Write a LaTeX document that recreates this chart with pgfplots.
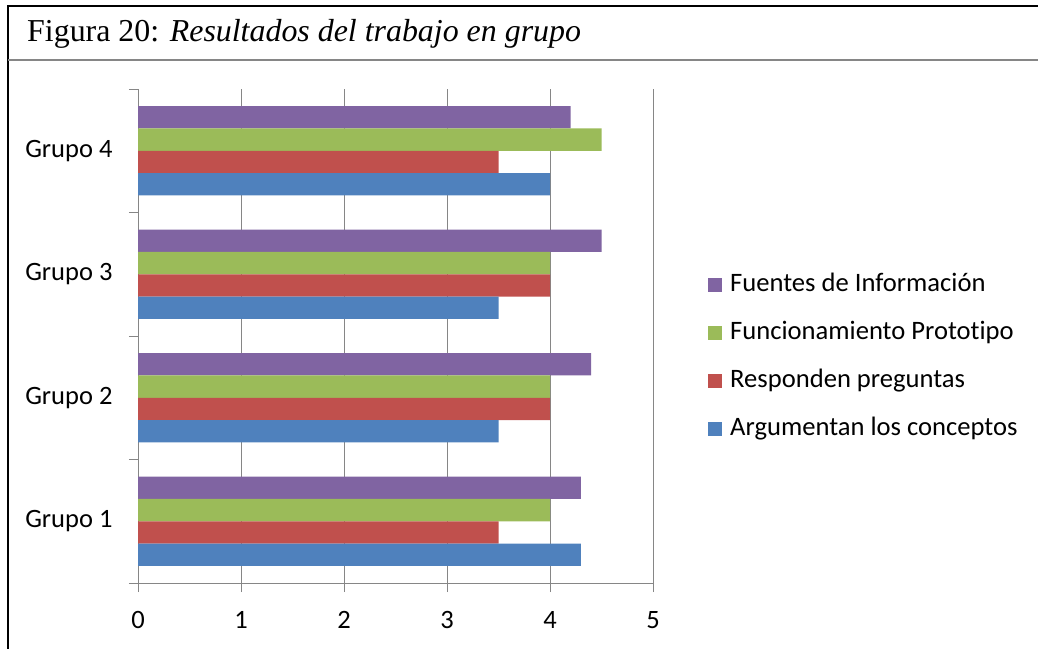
\documentclass[border=0pt]{standalone}
\usepackage{pgfplots}
\pgfplotsset{compat=1.18}
\usepackage{fontspec}
\setmainfont{Liberation Serif}
\newfontfamily\calibri[Ligatures=NoCommon]{Carlito}
\definecolor{cpurple}{HTML}{8064A2}
\definecolor{cgreen}{HTML}{9BBB59}
\definecolor{cred}{HTML}{C0504D}
\definecolor{cblue}{HTML}{4F81BD}
\definecolor{gridgray}{HTML}{868686}
\begin{document}
\begin{tikzpicture}[x=1pt,y=1pt]
\useasboundingbox (0,0) rectangle (1038,648);
\draw[line width=2.2pt] (8,-20) -- (8,642) -- (1060,642);
\draw[line width=2pt, color=gridgray] (8,588) -- (1060,588);
\node[anchor=base west, inner sep=0pt, font=\fontsize{31.9}{36}\selectfont] at (27,606) {Figura 20: \textit{Resultados del trabajo en grupo}};
\begin{axis}[
  at={(138pt,65pt)}, anchor=south west,
  scale only axis, width=515pt, height=494pt,
  xmin=0, xmax=5, ymin=0.5, ymax=4.5,
  xbar, bar width=22.3pt,
  axis x line*=bottom, axis y line*=left,
  axis line style={draw=gridgray, line width=1pt},
  xtick={0,1,2,3,4,5},
  xmajorgrids, major grid style={draw=gridgray, line width=1pt},
  ytick={1,2,3,4}, yticklabels={Grupo 1,Grupo 2,Grupo 3,Grupo 4},
  minor ytick={0.5,1.5,2.5,3.5,4.5},
  tick align=outside, major tick length=9pt, minor tick length=9pt,
  every major y tick/.style={draw=none},
  every minor y tick/.style={draw=gridgray, line width=1pt},
  every major x tick/.style={draw=gridgray, line width=1pt},
  ticklabel style={font=\calibri\fontsize{26.5}{30}\selectfont},
  xticklabel style={yshift=-16pt},
  yticklabel style={xshift=-13pt},
  /pgf/number format/assume math mode=true,
  legend style={at={(1.1068,0.4575)}, anchor=west, draw=none, fill=none, inner sep=0pt,
    font=\calibri\fontsize{26.6}{30}\selectfont, row sep=23pt,
    nodes={inner sep=0pt, text height=19pt, text depth=6pt},
    /tikz/every odd column/.append style={column sep=8pt},
    cells={anchor=west}},
  legend image code/.code={\fill[#1] (0pt,-7pt) rectangle (14pt,7pt);},
]
\addplot[fill=cpurple, draw=none, bar shift=33.45pt] coordinates {(4.3,1) (4.4,2) (4.5,3) (4.2,4)};
\addplot[fill=cgreen, draw=none, bar shift=11.15pt] coordinates {(4,1) (4,2) (4,3) (4.5,4)};
\addplot[fill=cred, draw=none, bar shift=-11.15pt] coordinates {(3.5,1) (4,2) (4,3) (3.5,4)};
\addplot[fill=cblue, draw=none, bar shift=-33.45pt] coordinates {(4.3,1) (3.5,2) (3.5,3) (4,4)};
\legend{Fuentes de Información, Funcionamiento Prototipo, Responden preguntas, Argumentan los conceptos}
\end{axis}
\end{tikzpicture}
\end{document}
